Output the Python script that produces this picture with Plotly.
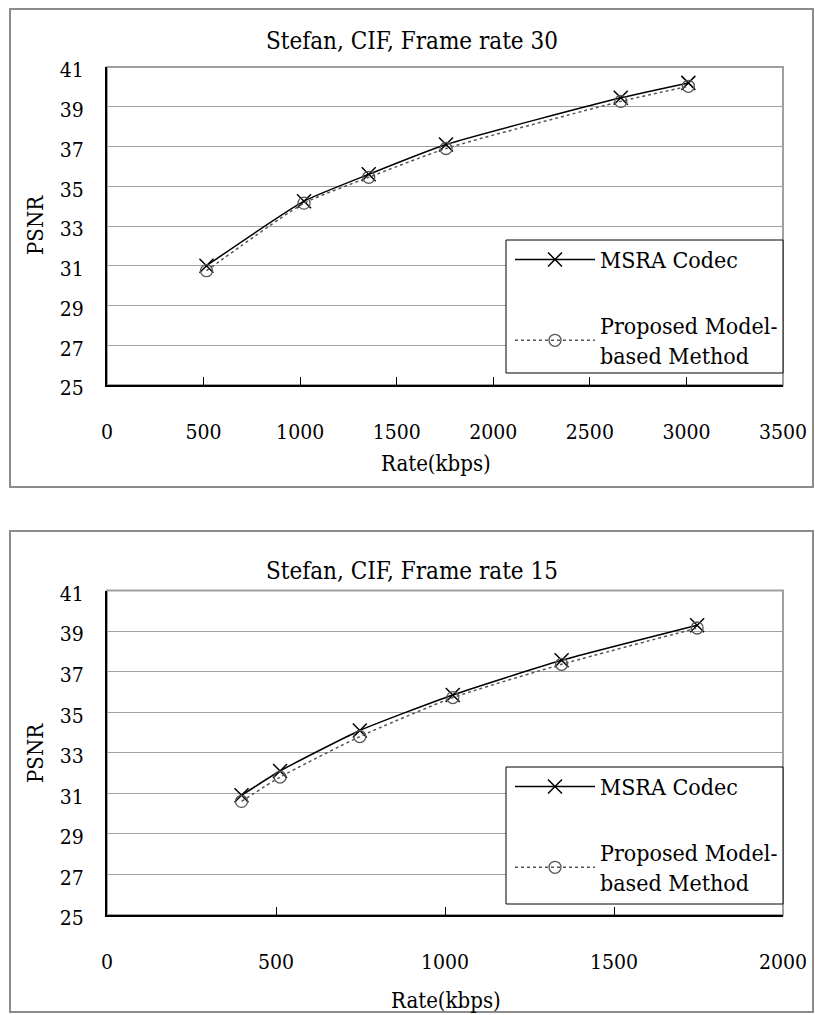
import plotly.graph_objects as go

W, H = 815, 1015

# ---------------- data ----------------
rate30 = [515, 1020, 1355, 1755, 2660, 3010]
msra30 = [31.0, 34.25, 35.6, 37.1, 39.45, 40.2]
prop30 = [30.75, 34.15, 35.45, 36.9, 39.27, 40.03]

rate15 = [398, 512, 748, 1023, 1345, 1746]
msra15 = [30.9, 32.1, 34.1, 35.85, 37.56, 39.29]
prop15 = [30.6, 31.8, 33.8, 35.72, 37.36, 39.15]

titles = ["Stefan, CIF, Frame rate 30", "Stefan, CIF, Frame rate 15"]
series_names = ["MSRA Codec", "Proposed Model-<br>based Method"]
y_ticks = [25, 27, 29, 31, 33, 35, 37, 39, 41]
x_ticks30 = [0, 500, 1000, 1500, 2000, 2500, 3000, 3500]
x_ticks15 = [0, 500, 1000, 1500, 2000]

FONT = "DejaVu Serif Condensed, DejaVu Serif, Liberation Serif, serif"
FS = 21


def px(x):
    return x / W


def py(y):
    return 1 - y / H


fig = go.Figure()

panels = [
    dict(rate=rate30, msra=msra30, prop=prop30, xt=x_ticks30, legend="legend",
         dom_x=(107, 783), dom_y=(67, 385), leg=(506, 240, 783, 373)),
    dict(rate=rate15, msra=msra15, prop=prop15, xt=x_ticks15, legend="legend2",
         dom_x=(107, 783), dom_y=(590.5, 915), leg=(506, 767, 783, 904)),
]

for i, p in enumerate(panels):
    xa = "x" if i == 0 else "x2"
    ya = "y" if i == 0 else "y2"
    fig.add_trace(go.Scatter(
        x=p["rate"], y=p["msra"], xaxis=xa, yaxis=ya, name=series_names[0],
        mode="lines+markers", legend=p["legend"], legendgroup="a" + xa,
        line=dict(color="black", width=1.5, shape="spline", smoothing=0.5),
        marker=dict(symbol="x-thin-open", size=14, line=dict(color="black", width=1.5)),
    ))
    fig.add_trace(go.Scatter(
        x=p["rate"], y=p["prop"], xaxis=xa, yaxis=ya, name=series_names[1],
        mode="lines+markers", legend=p["legend"], legendgroup="b" + xa,
        line=dict(color="#555555", width=1.5, dash="3px,3px", shape="spline", smoothing=0.5),
        marker=dict(symbol="circle-open", size=12, color="#555555", line=dict(color="#555555", width=1.3)),
    ))

layout = dict(
    width=W, height=H,
    margin=dict(l=0, r=0, t=0, b=0),
    paper_bgcolor="white", plot_bgcolor="white",
    font=dict(family=FONT, size=FS, color="black"),
    showlegend=True,
)

shapes = []
annotations = []
for i, p in enumerate(panels):
    n = i + 1
    sfx = "" if i == 0 else "2"
    x0, x1 = p["dom_x"]
    ytop, ybot = p["dom_y"]
    xmax = p["xt"][-1]
    layout["xaxis" + sfx] = dict(
        domain=[px(x0), px(x1)], range=[0, xmax], anchor="y" + sfx,
        tickvals=p["xt"], ticks="inside", ticklen=8, tickcolor="black", tickwidth=1,
        showline=True, linecolor="black", linewidth=2, showgrid=False, zeroline=False,
        ticklabelstandoff=27, tickfont=dict(size=FS, family=FONT), automargin=False,
    )
    # labelled y axis: invisible outside ticks push the labels away from the axis
    layout["yaxis" + sfx] = dict(
        domain=[py(ybot), py(ytop)], range=[25, 41], anchor="x" + sfx,
        tickvals=y_ticks, ticks="outside", ticklen=17, tickcolor="rgba(0,0,0,0)",
        showline=True, linecolor="black", linewidth=2, showgrid=True,
        gridcolor="#a0a0a0", gridwidth=1, zeroline=False, ticklabelshift=3,
        tickfont=dict(size=FS, family=FONT), automargin=False,
    )
    # overlay axis only for the short inside tick marks
    layout["yaxis" + str(n + 2)] = dict(
        domain=[py(ybot), py(ytop)], range=[25, 41], anchor="x" + sfx, overlaying="y" + sfx,
        tickvals=y_ticks, ticks="inside", ticklen=9, tickcolor="black", tickwidth=1.5,
        showticklabels=False, showgrid=False, zeroline=False, showline=False,
    )
    # plot-area border (grey, Excel style)
    shapes.append(dict(type="rect", xref="x" + sfx + " domain", yref="y" + sfx + " domain",
                       x0=0, x1=1, y0=0, y1=1, line=dict(color="#a0a0a0", width=2), layer="below"))
    # legend box
    lx0, ly0, lx1, ly1 = p["leg"]
    shapes.append(dict(type="rect", xref="paper", yref="paper",
                       x0=px(lx0), x1=px(lx1), y0=py(ly1), y1=py(ly0),
                       line=dict(color="black", width=1), fillcolor="white", layer="above"))

# outer chart frames
for (fy0, fy1) in [(9, 487), (531, 1012)]:
    shapes.append(dict(type="rect", xref="paper", yref="paper",
                       x0=px(10), x1=px(813), y0=py(fy1), y1=py(fy0),
                       line=dict(color="#8c8c8c", width=2)))

for i, (ty, psy, rx, ry) in enumerate([(41, 225, 436, 464), (571, 753, 446, 1000)]):
    annotations.append(dict(text=titles[i], xref="paper", yref="paper", x=px(412), y=py(ty),
                            showarrow=False, xanchor="center", yanchor="middle",
                            font=dict(size=24, family=FONT)))
    annotations.append(dict(text="PSNR", xref="paper", yref="paper", x=px(35), y=py(psy),
                            showarrow=False, textangle=-90, xanchor="center", yanchor="middle",
                            font=dict(size=22, family=FONT)))
    annotations.append(dict(text="Rate(kbps)", xref="paper", yref="paper", x=px(rx), y=py(ry),
                            showarrow=False, xanchor="center", yanchor="middle",
                            font=dict(size=22, family=FONT)))

legend_common = dict(
    xanchor="left", yanchor="top", bgcolor="rgba(0,0,0,0)", borderwidth=0,
    font=dict(size=23, family=FONT), itemwidth=80, tracegroupgap=33, traceorder="grouped",
)
layout["legend"] = dict(x=px(510), y=py(238), **legend_common)
layout["legend2"] = dict(x=px(510), y=py(765), **legend_common)
layout["shapes"] = shapes
layout["annotations"] = annotations

fig.update_layout(**layout)
fig.write_html("out.html", config={"displayModeBar": False},
               post_script="document.body.style.margin='0';document.body.style.padding='0';")
